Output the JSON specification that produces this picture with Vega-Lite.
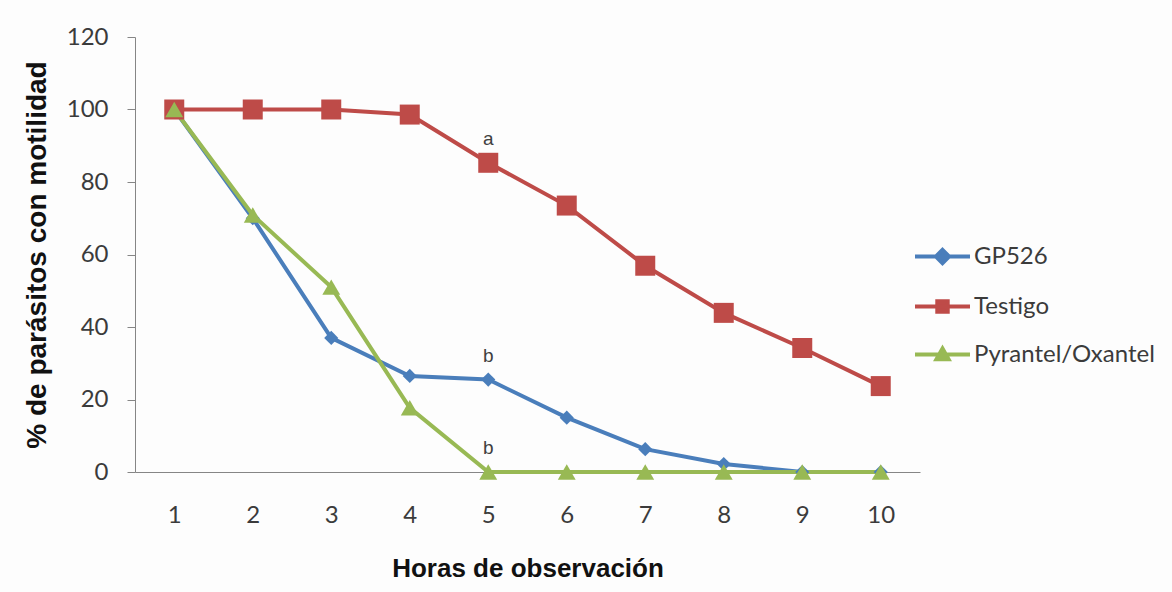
{
  "$schema": "https://vega.github.io/schema/vega-lite/v6.json",
  "width": 785,
  "height": 435,
  "autosize": {"type": "none"},
  "padding": {"left": 135, "top": 37, "right": 252, "bottom": 120},
  "background": "#fdfdfd",
  "config": {
    "view": {"stroke": null},
    "axis": {"grid": false, "domainColor": "#868686", "tickColor": "#868686", "labelFont": "Lato", "labelFontSize": 24, "labelColor": "#3b3b3b", "titleFont": "Liberation Sans", "titleFontSize": 26, "titleFontWeight": "bold", "titleColor": "#111111"}
  },
  "data": {"values": [
    {"hora": 1, "serie": "GP526", "valor": 100},
    {"hora": 2, "serie": "GP526", "valor": 70},
    {"hora": 3, "serie": "GP526", "valor": 37},
    {"hora": 4, "serie": "GP526", "valor": 26.5},
    {"hora": 5, "serie": "GP526", "valor": 25.5, "etiqueta": "b"},
    {"hora": 6, "serie": "GP526", "valor": 15},
    {"hora": 7, "serie": "GP526", "valor": 6.3},
    {"hora": 8, "serie": "GP526", "valor": 2.2},
    {"hora": 9, "serie": "GP526", "valor": 0},
    {"hora": 10, "serie": "GP526", "valor": 0},
    {"hora": 1, "serie": "Testigo", "valor": 100},
    {"hora": 2, "serie": "Testigo", "valor": 100},
    {"hora": 3, "serie": "Testigo", "valor": 100},
    {"hora": 4, "serie": "Testigo", "valor": 98.6},
    {"hora": 5, "serie": "Testigo", "valor": 85.3, "etiqueta": "a"},
    {"hora": 6, "serie": "Testigo", "valor": 73.5},
    {"hora": 7, "serie": "Testigo", "valor": 56.9},
    {"hora": 8, "serie": "Testigo", "valor": 43.9},
    {"hora": 9, "serie": "Testigo", "valor": 34.2},
    {"hora": 10, "serie": "Testigo", "valor": 23.7},
    {"hora": 1, "serie": "Pyrantel/Oxantel", "valor": 100},
    {"hora": 2, "serie": "Pyrantel/Oxantel", "valor": 70.9},
    {"hora": 3, "serie": "Pyrantel/Oxantel", "valor": 51},
    {"hora": 4, "serie": "Pyrantel/Oxantel", "valor": 17.7},
    {"hora": 5, "serie": "Pyrantel/Oxantel", "valor": 0, "etiqueta": "b"},
    {"hora": 6, "serie": "Pyrantel/Oxantel", "valor": 0},
    {"hora": 7, "serie": "Pyrantel/Oxantel", "valor": 0},
    {"hora": 8, "serie": "Pyrantel/Oxantel", "valor": 0},
    {"hora": 9, "serie": "Pyrantel/Oxantel", "valor": 0},
    {"hora": 10, "serie": "Pyrantel/Oxantel", "valor": 0}
  ]},
  "encoding": {
    "x": {"field": "hora", "type": "ordinal", "scale": {"type": "point", "padding": 0.5}, "sort": null,
      "axis": {"title": "Horas de observación", "labelAngle": 0, "ticks": false, "labelPadding": 31, "titlePadding": 28}},
    "y": {"field": "valor", "type": "quantitative", "scale": {"domain": [0, 120], "nice": false},
      "axis": {"title": "% de parásitos con motilidad", "titleFontSize": 28, "values": [0, 20, 40, 60, 80, 100, 120], "tickSize": 8, "labelPadding": 19, "titlePadding": 15}}
  },
  "layer": [
    {
      "mark": {"type": "line", "strokeWidth": 4},
      "encoding": {
        "color": {"field": "serie", "type": "nominal",
          "scale": {"domain": ["GP526", "Testigo", "Pyrantel/Oxantel"], "range": ["#4a7ebb", "#be4b48", "#98b954"]},
          "legend": {
            "title": null, "orient": "none", "legendX": 778, "legendY": 190,
            "symbolSize": 3025, "symbolStrokeWidth": 4, "symbolOpacity": 1,
            "labelFont": "Lato", "labelFontSize": 24, "labelColor": "#3b3b3b", "labelOffset": 2, "labelLimit": 400, "rowPadding": 5,
            "encode": {"symbols": {"update": {
              "shape": {"signal": "datum.value === 'GP526' ? 'M-1,0H1M0,-0.24L0.24,0L0,0.24L-0.24,0Z' : datum.value === 'Testigo' ? 'M-1,0H1M-0.19,-0.19H0.19V0.19H-0.19Z' : 'M-1,0H1M0,-0.22L0.22,0.17L-0.22,0.17Z'"},
              "strokeWidth": {"value": 4}
            }}}
          }
        }
      }
    },
    {"transform": [{"filter": "datum.serie === 'GP526'"}], "mark": {"type": "point", "filled": true, "opacity": 1, "shape": "diamond", "size": 200}, "encoding": {"color": {"field": "serie", "type": "nominal"}}},
    {"transform": [{"filter": "datum.serie === 'Testigo'"}], "mark": {"type": "point", "filled": true, "opacity": 1, "shape": "square", "size": 400}, "encoding": {"color": {"field": "serie", "type": "nominal"}}},
    {"transform": [{"filter": "datum.serie === 'Pyrantel/Oxantel'"}], "mark": {"type": "point", "filled": true, "opacity": 1, "shape": "triangle-up", "size": 320}, "encoding": {"color": {"field": "serie", "type": "nominal"}}},
    {
      "transform": [{"filter": "datum.etiqueta != null"}],
      "mark": {"type": "text", "dy": -24, "font": "Liberation Sans", "fontSize": 19, "color": "#404040"},
      "encoding": {"text": {"field": "etiqueta"}}
    }
  ]
}
